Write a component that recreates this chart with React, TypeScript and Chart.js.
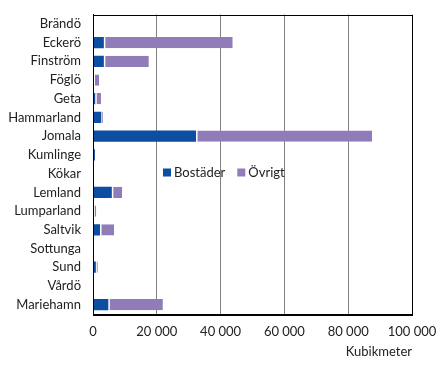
import React, { useEffect, useRef } from "react";
import { Chart, registerables } from "chart.js";

Chart.register(...registerables);

const categories = [
  "Brändö", "Eckerö", "Finström", "Föglö", "Geta", "Hammarland", "Jomala", "Kumlinge",
  "Kökar", "Lemland", "Lumparland", "Saltvik", "Sottunga", "Sund", "Vårdö", "Mariehamn",
];
const bostader = [0, 3400, 3400, 0, 700, 2600, 32300, 600, 0, 5900, 0, 2200, 0, 900, 0, 4800];
const ovrigt = [0, 40400, 14100, 1900, 1800, 500, 55200, 0, 0, 3200, 1000, 4400, 0, 600, 0, 17100];
const xTicks = [0, 20000, 40000, 60000, 80000, 100000];
const seriesNames = ["Bostäder", "Övrigt"];
const axisTitle = "Kubikmeter";

const FONT = "Lato, sans-serif";
const BLUE = "#0B4EA2";
const PURPLE = "#907CB9";

const fmt = (v: number) => String(v).replace(/\B(?=(\d{3})+(?!\d))/g, " ");

const framePlugin = {
  id: "frame",
  afterDatasetsDraw(chart: any) {
    const { ctx, chartArea: a } = chart;
    ctx.save();
    ctx.strokeStyle = "#000";
    ctx.lineWidth = 1;
    ctx.strokeRect(Math.round(a.left) + 0.5, Math.round(a.top) + 0.5, Math.round(a.right - a.left), Math.round(a.bottom - a.top));
    ctx.restore();
  },
  afterDraw(chart: any) {
    const { ctx, chartArea: a } = chart;
    ctx.save();
    ctx.font = `13px ${FONT}`;
    ctx.textBaseline = "middle";
    let x = a.left + 70;
    const y = a.top + 158;
    chart.data.datasets.forEach((ds: any) => {
      ctx.fillStyle = ds.backgroundColor;
      ctx.fillRect(x, y - 4, 8, 8);
      x += 11;
      ctx.fillStyle = "#222";
      ctx.fillText(ds.label, x, y);
      x += ctx.measureText(ds.label).width + 12;
    });
    ctx.restore();
  },
};

export default function App() {
  const ref = useRef<HTMLCanvasElement>(null);
  useEffect(() => {
    const chart = new Chart(ref.current!, {
      type: "bar",
      data: {
        labels: categories,
        datasets: [
          { label: seriesNames[0], data: bostader, backgroundColor: BLUE, borderWidth: 0 },
          {
            label: seriesNames[1], data: ovrigt, backgroundColor: PURPLE,
            borderColor: "#fff", borderWidth: { left: 1.5, right: 0, top: 0, bottom: 0 }, borderSkipped: false,
          },
        ],
      },
      options: {
        indexAxis: "y",
        animation: false,
        responsive: true,
        maintainAspectRatio: false,
        layout: { padding: { top: 6.5, right: 25, left: 0, bottom: 0 } },
        datasets: { bar: { categoryPercentage: 1, barPercentage: 0.6 } },
        plugins: { legend: { display: false }, tooltip: { enabled: false } },
        scales: {
          x: {
            stacked: true,
            min: 0,
            max: 100000,
            afterBuildTicks: (s: any) => { s.ticks = xTicks.map((v) => ({ value: v })); },
            ticks: { callback: (v: any) => fmt(Number(v)), color: "#222", font: { family: FONT, size: 13 }, maxRotation: 0, padding: 10 },
            grid: { color: "#808080", drawTicks: false },
            border: { display: true, color: "#000" },
            title: { display: true, text: axisTitle, align: "end", color: "#222", font: { family: FONT, size: 13 }, padding: { top: 3, bottom: -1 } },
            afterFit: (s: any) => { s.height = 45; s.paddingLeft = 0; s.paddingRight = 0; },
          },
          y: {
            stacked: true,
            ticks: { color: "#222", font: { family: FONT, size: 13 }, padding: 12, autoSkip: false },
            grid: { display: false, drawTicks: false },
            border: { display: true, color: "#000" },
            afterFit: (s: any) => { s.width = 85; s.paddingTop = 0; s.paddingBottom = 0; },
          },
        },
      },
      plugins: [framePlugin],
    });
    return () => chart.destroy();
  }, []);
  return (
    <div style={{ width: 429, height: 351, position: "relative" }}>
      <canvas ref={ref} />
    </div>
  );
}
